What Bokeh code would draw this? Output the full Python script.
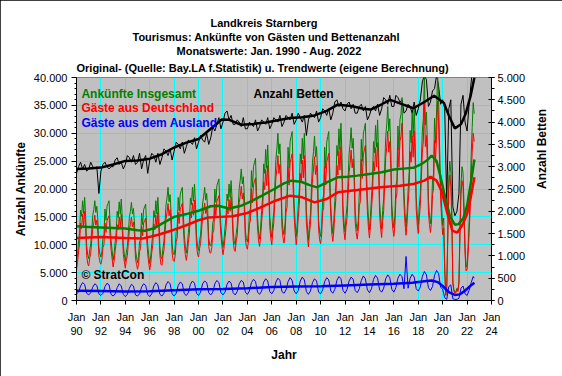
import math
from bokeh.plotting import figure
from bokeh.models import Range1d, LinearAxis, FixedTicker, Label, Title
from bokeh.embed import file_html
from bokeh.resources import INLINE

FONT = "Liberation Sans"

# ---------------- data ----------------
title_lines = ["Landkreis Starnberg",
               "Tourismus: Ankünfte von Gästen und Bettenanzahl",
               "Monatswerte: Jan. 1990 - Aug. 2022",
               "Original- (Quelle: Bay.LA f.Statistik) u. Trendwerte (eigene Berechnung)"]
series_names = ["Ankünfte Insgesamt", "Gäste aus Deutschland", "Gäste aus dem Ausland", "Anzahl Betten"]

x_tick_years = [1990, 1992, 1994, 1996, 1998, 2000, 2002, 2004, 2006, 2008, 2010, 2012, 2014, 2016, 2018, 2020, 2022, 2024]
x_tick_labels = ["Jan\n90", "Jan\n92", "Jan\n94", "Jan\n96", "Jan\n98", "Jan\n00", "Jan\n02", "Jan\n04", "Jan\n06",
                 "Jan\n08", "Jan\n10", "Jan\n12", "Jan\n14", "Jan\n16", "Jan\n18", "Jan\n20", "Jan\n22", "Jan\n24"]
y_left_ticks = [0, 5000, 10000, 15000, 20000, 25000, 30000, 35000, 40000]
y_left_labels = ["0", "5.000", "10.000", "15.000", "20.000", "25.000", "30.000", "35.000", "40.000"]
y_right_ticks = [0, 500, 1000, 1500, 2000, 2500, 3000, 3500, 4000, 4500, 5000]
y_right_labels = ["0", "500", "1.000", "1.500", "2.000", "2.500", "3.000", "3.500", "4.000", "4.500", "5.000"]

first_year = 1990
# monthly values Jan 1990 - Aug 2022, in thousands
ankuenfte_gesamt_tsd = [
    7.0, 8.4, 10.5, 12.2, 16.2, 15.1, 17.9, 15.6, 18.5, 15.1, 9.9, 8.2,
    7.5, 9.1, 10.1, 12.7, 15.3, 16.3, 17.9, 15.8, 16.9, 14.3, 9.6, 8.3,
    7.8, 8.8, 11.3, 11.8, 16.4, 14.4, 16.9, 17.4, 17.9, 13.9, 10.8, 9.0,
    7.2, 8.5, 10.5, 12.2, 16.0, 14.9, 17.7, 15.5, 18.2, 14.9, 10.0, 8.3,
    7.0, 8.6, 9.7, 12.3, 15.0, 16.0, 17.6, 15.5, 16.5, 13.9, 9.1, 7.8,
    6.8, 7.9, 10.5, 11.0, 15.7, 13.6, 16.3, 16.8, 17.3, 13.1, 10.0, 8.1,
    6.6, 8.0, 10.2, 12.0, 16.1, 14.9, 17.9, 15.5, 18.5, 14.9, 9.6, 7.8,
    7.5, 9.4, 10.7, 13.9, 17.1, 18.4, 20.3, 17.7, 19.0, 15.8, 10.1, 8.5,
    8.2, 9.4, 12.4, 13.0, 18.5, 16.1, 19.1, 19.7, 20.3, 15.5, 11.8, 9.7,
    8.5, 10.0, 12.2, 14.1, 18.4, 17.2, 20.3, 17.8, 20.9, 17.2, 11.6, 9.7,
    9.0, 10.7, 11.8, 14.7, 17.5, 18.6, 20.3, 18.0, 19.2, 16.3, 11.3, 9.9,
    9.8, 11.0, 14.0, 14.6, 20.0, 17.6, 20.6, 21.2, 21.8, 17.0, 13.4, 11.2,
    9.5, 10.9, 13.1, 14.9, 19.1, 17.9, 20.9, 18.5, 21.5, 17.9, 12.5, 10.7,
    10.0, 12.0, 13.4, 16.8, 20.2, 21.6, 23.6, 20.9, 22.2, 18.8, 12.7, 11.1,
    10.5, 12.0, 15.8, 16.5, 23.3, 20.3, 24.0, 24.8, 25.5, 19.5, 15.0, 12.3,
    11.0, 13.0, 16.1, 18.6, 24.5, 22.8, 27.1, 23.7, 27.9, 22.8, 15.2, 12.7,
    11.3, 14.1, 16.0, 20.7, 25.3, 27.2, 30.0, 26.3, 28.1, 23.5, 15.0, 12.8,
    11.8, 13.7, 18.3, 19.2, 27.5, 23.8, 28.5, 29.4, 30.3, 22.9, 17.4, 14.0,
    11.5, 13.7, 17.1, 19.8, 26.3, 24.5, 29.1, 25.4, 30.0, 24.5, 16.1, 13.4,
    10.8, 13.6, 15.5, 20.2, 24.8, 26.7, 29.5, 25.8, 27.6, 23.0, 14.5, 12.3,
    11.5, 13.4, 18.1, 19.0, 27.5, 23.7, 28.4, 29.4, 30.3, 22.8, 17.1, 13.8,
    12.0, 14.4, 17.9, 20.9, 27.8, 25.9, 30.8, 26.9, 31.8, 25.9, 17.0, 14.0,
    12.3, 15.1, 17.0, 21.7, 26.3, 28.2, 31.0, 27.3, 29.1, 24.5, 16.0, 13.8,
    12.5, 14.4, 19.3, 20.2, 28.9, 25.0, 29.9, 30.8, 31.8, 24.1, 18.3, 14.8,
    12.7, 15.1, 18.6, 21.6, 28.5, 26.5, 31.4, 27.5, 32.4, 26.5, 17.6, 14.7,
    12.8, 16.1, 18.3, 23.8, 29.3, 31.5, 34.8, 30.4, 32.6, 27.1, 17.2, 14.6,
    13.0, 15.2, 20.5, 21.6, 31.3, 27.0, 32.4, 33.4, 36.4, 25.9, 19.5, 15.6,
    13.2, 15.8, 19.7, 22.9, 30.5, 28.3, 33.7, 29.4, 34.8, 28.3, 18.6, 15.4,
    13.5, 16.9, 19.1, 24.8, 30.4, 32.6, 40.5, 31.5, 33.8, 28.1, 18.0, 15.3,
    13.8, 16.0, 21.6, 22.7, 32.7, 28.2, 33.8, 40.5, 36.0, 27.1, 20.5, 16.5,
    13.5, 14.8, 6.0, 1.0, 2.5, 12.0, 22.0, 25.0, 23.0, 16.0, 3.5, 2.0,
    1.5, 1.6, 2.2, 1.8, 3.5, 13.0, 21.0, 24.0, 23.0, 17.0, 9.5, 6.0,
    6.5, 9.5, 14.0, 18.5, 26.0, 31.0, 35.5, 33.5,
]
gaeste_deutschland_tsd = [
    5.5, 6.8, 8.7, 10.2, 13.9, 12.9, 15.5, 13.4, 16.0, 12.9, 8.1, 6.6,
    6.2, 7.6, 8.5, 10.8, 13.0, 13.9, 15.3, 13.5, 14.4, 12.1, 8.0, 6.9,
    6.5, 7.4, 9.5, 10.0, 13.9, 12.2, 14.3, 14.8, 15.2, 11.7, 9.1, 7.5,
    6.0, 7.1, 8.9, 10.3, 13.6, 12.7, 15.0, 13.1, 15.5, 12.7, 8.4, 7.0,
    5.8, 7.2, 8.1, 10.4, 12.7, 13.6, 15.0, 13.2, 14.1, 11.8, 7.6, 6.5,
    5.6, 6.5, 8.8, 9.3, 13.4, 11.6, 13.9, 14.3, 14.8, 11.1, 8.4, 6.7,
    5.5, 6.7, 8.6, 10.1, 13.7, 12.7, 15.3, 13.2, 15.8, 12.7, 8.1, 6.5,
    6.3, 8.0, 9.1, 11.9, 14.6, 15.7, 17.4, 15.2, 16.3, 13.5, 8.5, 7.2,
    7.0, 8.0, 10.6, 11.2, 15.8, 13.8, 16.4, 16.9, 17.4, 13.2, 10.1, 8.2,
    7.2, 8.5, 10.4, 12.1, 15.8, 14.8, 17.5, 15.3, 18.0, 14.8, 9.9, 8.3,
    7.8, 9.3, 10.2, 12.7, 15.1, 16.0, 17.5, 15.6, 16.5, 14.1, 9.7, 8.6,
    8.5, 9.5, 12.1, 12.6, 17.3, 15.2, 17.8, 18.3, 18.8, 14.7, 11.6, 9.7,
    8.2, 9.4, 11.3, 12.9, 16.5, 15.5, 18.1, 16.0, 18.6, 15.5, 10.8, 9.2,
    8.8, 10.6, 11.7, 14.7, 17.6, 18.7, 20.5, 18.2, 19.3, 16.4, 11.1, 9.7,
    9.2, 10.5, 13.7, 14.3, 20.1, 17.5, 20.7, 21.4, 22.0, 16.9, 13.0, 10.7,
    9.7, 11.4, 14.1, 16.2, 21.3, 19.9, 23.5, 20.6, 24.2, 19.9, 13.3, 11.2,
    10.0, 12.4, 14.0, 18.0, 22.0, 23.6, 26.0, 22.8, 24.4, 20.4, 13.2, 11.3,
    10.3, 11.9, 15.9, 16.7, 23.9, 20.7, 24.7, 25.5, 26.3, 19.9, 15.1, 12.2,
    10.0, 11.9, 14.8, 17.2, 22.8, 21.2, 25.2, 22.0, 26.0, 21.2, 14.0, 11.6,
    9.6, 12.0, 13.7, 17.7, 21.8, 23.4, 25.8, 22.6, 24.2, 20.1, 12.8, 10.9,
    10.2, 11.8, 15.9, 16.7, 24.0, 20.7, 24.8, 25.6, 26.4, 19.9, 15.1, 12.1,
    10.6, 12.6, 15.7, 18.3, 24.2, 22.5, 26.8, 23.4, 27.6, 22.5, 14.9, 12.3,
    10.9, 13.3, 14.9, 19.0, 23.0, 24.6, 27.0, 23.8, 25.4, 21.4, 14.1, 12.2,
    11.0, 12.7, 16.9, 17.7, 25.3, 21.9, 26.1, 27.0, 27.8, 21.1, 16.0, 13.0,
    11.2, 13.3, 16.3, 18.9, 24.9, 23.2, 27.4, 24.0, 28.3, 23.2, 15.5, 12.9,
    11.3, 14.2, 16.1, 20.9, 25.6, 27.5, 30.4, 26.6, 28.5, 23.7, 15.1, 12.8,
    11.5, 13.4, 18.2, 19.1, 27.4, 23.9, 28.6, 29.5, 31.8, 22.9, 17.2, 13.8,
    11.7, 13.9, 17.3, 20.1, 26.7, 24.8, 29.5, 25.7, 30.4, 24.8, 16.4, 13.6,
    12.0, 14.9, 16.9, 21.8, 26.6, 28.6, 35.5, 27.6, 29.6, 24.7, 15.9, 13.6,
    12.2, 14.1, 19.0, 20.0, 28.7, 24.8, 29.7, 35.8, 31.8, 23.9, 18.1, 14.6,
    11.8, 13.0, 5.3, 0.9, 2.2, 10.8, 20.0, 22.5, 20.5, 14.2, 3.0, 1.7,
    1.3, 1.4, 1.9, 1.6, 3.1, 11.8, 19.0, 21.5, 20.5, 15.0, 8.4, 5.3,
    5.6, 8.3, 12.2, 16.0, 22.5, 26.5, 30.0, 28.5,
]
# every second month (Jan, Mar, May, Jul, Sep, Nov; 2022: Jan, Mar, May, Jul, Aug)
bi_months = [0, 2, 4, 6, 8, 10]
bi_months_last = [0, 2, 4, 6, 7]
gaeste_ausland_tsd = [
    1.2, 1.5, 2.6, 3.2, 2.9, 1.3,
    1.0, 1.4, 2.4, 3.0, 2.7, 1.2,
    0.9, 1.3, 2.5, 3.1, 2.8, 1.1,
    0.8, 1.2, 2.3, 3.0, 2.6, 1.1,
    0.7, 1.1, 2.2, 2.9, 2.6, 1.0,
    0.8, 1.2, 2.4, 3.0, 2.7, 1.1,
    0.7, 1.2, 2.6, 3.2, 2.8, 1.1,
    0.8, 1.3, 2.8, 3.4, 3.0, 1.2,
    0.8, 1.3, 2.7, 3.3, 3.0, 1.2,
    0.9, 1.4, 2.9, 3.5, 3.1, 1.3,
    0.9, 1.5, 3.0, 3.5, 3.2, 1.4,
    1.0, 1.5, 3.0, 3.6, 3.2, 1.4,
    1.0, 1.5, 2.9, 3.5, 3.1, 1.4,
    1.0, 1.6, 3.0, 3.6, 3.3, 1.5,
    1.1, 1.7, 3.2, 3.8, 3.4, 1.5,
    1.1, 1.7, 3.3, 3.9, 3.5, 1.6,
    1.2, 1.8, 3.3, 4.0, 3.6, 1.6,
    1.3, 1.9, 3.4, 4.1, 3.6, 1.7,
    1.2, 1.8, 3.5, 4.2, 3.7, 1.6,
    1.1, 1.7, 3.2, 3.9, 3.5, 1.5,
    1.2, 1.9, 3.4, 4.1, 3.7, 1.7,
    1.3, 2.0, 3.6, 4.3, 3.9, 1.8,
    1.3, 2.0, 3.5, 4.2, 3.8, 1.8,
    1.4, 2.1, 3.6, 4.4, 3.9, 1.9,
    1.4, 2.1, 3.8, 4.5, 4.0, 1.9,
    1.5, 2.2, 3.9, 4.6, 4.1, 2.0,
    1.5, 2.3, 4.0, 4.7, 4.3, 2.1,
    7.9, 2.2, 4.0, 4.7, 4.2, 2.1,
    1.7, 2.4, 4.3, 5.2, 4.6, 2.3,
    1.8, 2.5, 4.5, 5.4, 4.8, 2.4,
    2.0, 0.5, 0.2, 2.5, 2.8, 0.3,
    0.2, 0.2, 0.4, 2.2, 2.6, 1.2,
    0.9, 1.8, 3.2, 4.3, 4.0,
]
betten = [
    2850, 3000, 3100, 2950, 3050, 2900,
    2950, 3100, 3000, 2950, 3000, 2400,
    2900, 3050, 3100, 3000, 2950, 3000,
    3000, 3150, 3200, 3050, 3100, 2950,
    3050, 3250, 3200, 3100, 3250, 3050,
    3100, 3300, 2950, 3150, 3250, 2850,
    3150, 3300, 3250, 3100, 3300, 3050,
    3200, 3400, 3350, 3250, 3400, 3150,
    3350, 3550, 3500, 3400, 3550, 3300,
    3450, 3600, 3550, 3500, 3650, 3400,
    3550, 3700, 3600, 3550, 3750, 3500,
    3650, 3900, 3800, 3950, 4100, 3850,
    4000, 4200, 4250, 4050, 4150, 3950,
    3950, 4050, 4000, 3900, 4100, 3850,
    3850, 4000, 3950, 3900, 4050, 3800,
    3900, 4050, 4000, 3950, 4100, 3850,
    3950, 4100, 4050, 4000, 4150, 3900,
    4000, 4150, 4100, 4050, 4200, 3950,
    4050, 4200, 4100, 4000, 4150, 3700,
    4050, 4200, 4150, 4100, 4250, 4000,
    4100, 4300, 4250, 4150, 4300, 4050,
    4200, 4450, 4500, 4350, 4450, 4300,
    4250, 4400, 4450, 4300, 4400, 4200,
    4200, 4350, 4400, 4250, 4350, 4050,
    4150, 4300, 4350, 4250, 4400, 4150,
    4300, 4550, 4500, 4400, 4600, 4350,
    4350, 4600, 4550, 4450, 4500, 4200,
    4250, 4400, 4350, 4200, 4450, 4150,
    4300, 4500, 4900, 5050, 4950, 4350,
    4450, 4700, 4750, 5050, 4800, 4400,
    4500, 4300, 2200, 4300, 4500, 2100,
    1900, 2000, 2400, 4400, 4600, 4000,
    3800, 4400, 4900, 5300, 5300,
]
# trend values
trend_gesamt_x = [1990.0, 1991.0, 1992.0, 1993.0, 1994.0, 1995.0, 1995.6, 1996.3, 1997.0, 1998.0, 1999.0, 2000.0,
                  2001.0, 2001.6, 2002.5, 2003.5, 2004.3, 2005.2, 2006.2, 2007.0, 2007.6, 2008.4, 2009.1, 2009.7,
                  2010.5, 2011.4, 2012.2, 2013.0, 2014.0, 2015.0, 2016.0, 2017.0, 2017.6, 2018.2, 2018.7, 2019.1,
                  2019.5, 2019.8, 2020.2, 2020.6, 2021.0, 2021.3, 2021.7, 2022.0, 2022.3, 2022.6]
trend_gesamt_tsd = [13.3, 13.2, 13.1, 13.0, 12.9, 12.6, 12.5, 12.9, 13.8, 15.0, 15.5, 16.1,
                    16.9, 17.0, 16.5, 17.0, 17.8, 18.8, 20.0, 21.0, 21.5, 21.3, 20.7, 20.3,
                    21.2, 22.1, 22.2, 22.4, 22.7, 23.0, 23.5, 23.7, 23.8, 24.4, 25.1, 26.0,
                    25.0, 22.4, 18.5, 15.1, 13.6, 13.7, 14.8, 17.0, 21.0, 25.3]
trend_deutschland_x = [1990.0, 1991.0, 1992.0, 1993.0, 1994.0, 1995.4, 1996.7, 1998.0, 1999.0, 2000.0, 2000.8, 2001.8,
                       2002.8, 2004.0, 2005.0, 2006.3, 2007.5, 2008.5, 2009.5, 2010.5, 2011.4, 2013.0, 2014.9, 2016.5,
                       2017.6, 2018.5, 2019.0, 2019.5, 2019.9, 2020.4, 2020.8, 2021.2, 2021.6, 2022.0, 2022.3, 2022.6]
trend_deutschland_tsd = [11.2, 11.3, 11.4, 11.3, 11.2, 11.1, 11.8, 12.7, 13.5, 14.4, 14.9, 15.0,
                         15.1, 15.7, 16.6, 17.9, 18.8, 18.5, 17.6, 18.2, 19.4, 19.8, 20.3, 20.6,
                         20.9, 21.5, 22.2, 21.5, 19.7, 15.5, 12.5, 12.2, 13.5, 15.5, 18.5, 22.1]
trend_ausland_x = [1990.0, 1992.0, 1994.0, 1996.0, 1998.0, 2000.0, 2002.0, 2004.0, 2006.0, 2008.0, 2010.0, 2012.0,
                   2014.0, 2016.0, 2017.5, 2018.5, 2019.1, 2019.6, 2020.0, 2020.5, 2021.0, 2021.4, 2021.8, 2022.2, 2022.6]
trend_ausland_tsd = [1.75, 1.7, 1.6, 1.65, 1.85, 2.0, 2.05, 2.2, 2.4, 2.5, 2.55, 2.7,
                     2.85, 3.0, 3.2, 3.45, 3.6, 3.3, 2.6, 1.5, 1.0, 1.1, 1.7, 2.5, 3.2]
trend_betten_x = [1990.0, 1991.0, 1992.0, 1993.0, 1994.0, 1995.0, 1996.0, 1997.0, 1998.0, 1999.0, 2000.0, 2001.0,
                  2001.9, 2002.5, 2003.5, 2004.5, 2005.5, 2006.5, 2007.5, 2008.5, 2009.5, 2010.5, 2011.4, 2012.5,
                  2013.5, 2014.1, 2015.0, 2015.7, 2016.5, 2017.6, 2018.5, 2019.3, 2020.1, 2020.5, 2021.0, 2021.5,
                  2021.9, 2022.3, 2022.6]
trend_betten = [2950, 2960, 2980, 3050, 3130, 3140, 3180, 3280, 3430, 3540, 3620, 3850,
                4060, 4050, 3940, 3960, 3990, 4040, 4090, 4110, 4150, 4250, 4390, 4360,
                4300, 4280, 4400, 4500, 4420, 4310, 4450, 4590, 4430, 4150, 3860, 3950,
                4200, 4600, 5000]

# ---------------- derived coordinates ----------------
x_monthly = [first_year + i / 12 for i in range(len(ankuenfte_gesamt_tsd))]
n_full_years = (len(betten) - len(bi_months_last)) // len(bi_months)
x_bimonthly = [first_year + y + m / 12 for y in range(n_full_years) for m in bi_months] + \
              [first_year + n_full_years + m / 12 for m in bi_months_last]
K = 1000

p = figure(width=562, height=376, x_range=Range1d(1990, 2024), y_range=Range1d(0, 40000),
           output_backend="svg", toolbar_location=None,
           min_border_left=76, min_border_right=71, min_border_top=77, min_border_bottom=76)
p.extra_y_ranges = {"betten": Range1d(0, 5000)}
p.background_fill_color = "#C0C0C0"
p.border_fill_color = "white"
p.outline_line_color = "#808080"
p.styles = {"outline": "1px solid black", "outline-offset": "-1px"}

# titles (added bottom line first, they stack upwards); left-aligned with offsets so
# that each line is centred at the same spot as in the reference
title_offsets = [134, 56, 100, 0]
for i, (txt, off) in enumerate(reversed(list(zip(title_lines, title_offsets)))):
    p.add_layout(Title(text=txt, align="left", offset=off, text_font=FONT, text_font_style="bold",
                       text_font_size="11px", text_color="black", standoff=(7 if i == 0 else 0)), "above")

# axes
xa = p.xaxis[0]
xa.ticker = FixedTicker(ticks=x_tick_years)
xa.major_label_overrides = dict(zip(x_tick_years, x_tick_labels))
ya = p.yaxis[0]
ya.ticker = FixedTicker(ticks=y_left_ticks, minor_ticks=list(range(0, 40001, 1000)))
ya.major_label_overrides = dict(zip(y_left_ticks, y_left_labels))
yr = LinearAxis(y_range_name="betten",
                ticker=FixedTicker(ticks=y_right_ticks, minor_ticks=list(range(0, 5001, 250))),
                major_label_overrides=dict(zip(y_right_ticks, y_right_labels)))
p.add_layout(yr, "right")

for ax in (xa, ya, yr):
    ax.axis_line_color = "black"
    ax.major_tick_line_color = "black"
    ax.minor_tick_line_color = "black"
    ax.major_label_text_font = FONT
    ax.major_label_text_font_size = "11px"
    ax.major_label_text_color = "black"
    ax.axis_label_text_font = FONT
    ax.axis_label_text_font_style = "bold"
    ax.axis_label_text_font_size = "12px"
    ax.axis_label_text_color = "black"
xa.major_tick_in = 0
xa.major_tick_out = 4
xa.minor_tick_out = 0
xa.major_label_standoff = 6
xa.axis_label = "Jahr"
xa.axis_label_standoff = 8
ya.major_tick_in = 0
ya.major_tick_out = 5
ya.minor_tick_in = 0
ya.minor_tick_out = 2
ya.major_label_standoff = 4
ya.axis_label = "Anzahl Ankünfte"
ya.axis_label_standoff = 3
yr.major_tick_in = 3
yr.major_tick_out = 3
yr.minor_tick_in = 0
yr.minor_tick_out = 3
yr.major_label_standoff = 3
yr.axis_label = "Anzahl Betten"
yr.axis_label_standoff = 14
yr.axis_label_orientation = math.pi / 2

p.xgrid.ticker = FixedTicker(ticks=x_tick_years)
p.ygrid.ticker = FixedTicker(ticks=y_left_ticks)
p.grid.grid_line_color = "#00FFFF"
p.grid.grid_line_width = 1

# raw series
p.line(x_bimonthly, betten, y_range_name="betten", line_color="black", line_width=1)
p.line(x_monthly, [v * K for v in ankuenfte_gesamt_tsd], line_color="#008000", line_width=1)
p.line(x_monthly, [v * K for v in gaeste_deutschland_tsd], line_color="#FF0000", line_width=1)
p.line(x_bimonthly, [v * K for v in gaeste_ausland_tsd], line_color="#0000FF", line_width=1)
# trends
p.line(trend_betten_x, trend_betten, y_range_name="betten", line_color="black", line_width=2.5)
p.line(trend_gesamt_x, [v * K for v in trend_gesamt_tsd], line_color="#008000", line_width=2.5)
p.line(trend_deutschland_x, [v * K for v in trend_deutschland_tsd], line_color="#FF0000", line_width=2.5)
p.line(trend_ausland_x, [v * K for v in trend_ausland_tsd], line_color="#0000FF", line_width=2.5)

# legend-like texts inside the plot
for txt, col, yv in zip(series_names[:3], ["#008000", "#FF0000", "#0000FF"], [37130, 34440, 31750]):
    p.add_layout(Label(x=1990.4, y=yv, text=txt, text_align="left", text_baseline="middle",
                       text_font=FONT, text_font_style="bold", text_font_size="12px", text_color=col))
p.add_layout(Label(x=2004.5, y=37130, text=series_names[3], text_align="left", text_baseline="middle",
                   text_font=FONT, text_font_style="bold", text_font_size="12px", text_color="black"))
p.add_layout(Label(x=1990.4, y=4500, text="© StratCon", text_align="left", text_baseline="middle",
                   text_font=FONT, text_font_style="bold", text_font_size="12px", text_color="black"))

open("out.html", "w").write(file_html(p, INLINE))
